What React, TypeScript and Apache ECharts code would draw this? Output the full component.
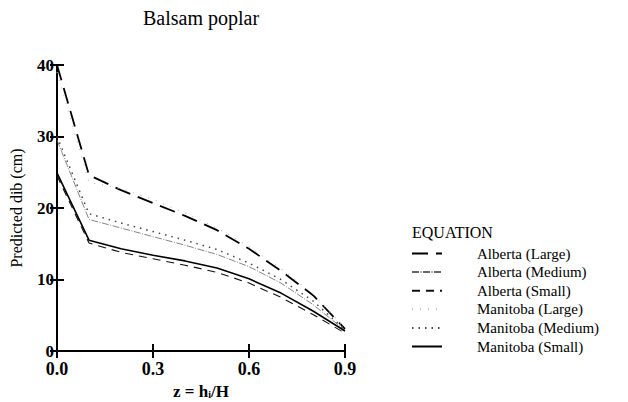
import React, { useEffect, useRef } from "react";
import * as echarts from "echarts";

// Relative height z = h_i / H
const zValues = [0, 0.1, 0.2, 0.3, 0.4, 0.5, 0.6, 0.7, 0.8, 0.9];

// Predicted diameter inside bark (cm) for each taper equation
const albertaLarge = [40, 24.6, 22.5, 20.7, 18.9, 16.9, 14.3, 11.2, 7.8, 3.1];
const albertaMedium = [29.5, 18.4, 17.2, 16.0, 14.8, 13.5, 11.8, 9.5, 6.5, 2.9];
const albertaSmall = [24.5, 15.1, 13.8, 12.9, 12.0, 11.0, 9.5, 7.5, 5.1, 2.5];
const manitobaLarge = [39, 23.6, 22.7, 21.2, 19.3, 17.2, 14.6, 11.5, 8.0, 3.2];
const manitobaMedium = [30, 19.2, 17.9, 16.7, 15.5, 14.2, 12.3, 10.0, 7.0, 3.0];
const manitobaSmall = [24.9, 15.5, 14.3, 13.4, 12.6, 11.6, 10.1, 8.1, 5.6, 2.8];

const xTicks = [0, 0.3, 0.6, 0.9];
const yTicks = [0, 10, 20, 30, 40];

const SERIF = "'Liberation Serif', serif";

const pairs = (ys: number[]) => zValues.map((z, i) => [z, ys[i]]);

export default function App() {
  const ref = useRef<HTMLDivElement>(null);

  useEffect(() => {
    if (!ref.current) return;
    const chart = echarts.init(ref.current, undefined, { renderer: "svg" });

    const line = (
      name: string,
      data: number[],
      color: string,
      width: number,
      type: any
    ) => ({
      name,
      type: "line",
      data: pairs(data),
      symbol: "none",
      showSymbol: false,
      lineStyle: { color, width, type },
      itemStyle: { color },
      z: 3,
    });

    const axisCommon = {
      axisLine: { show: true, lineStyle: { color: "#000", width: 2 } },
      axisTick: {
        show: true,
        inside: true,
        length: 7,
        lineStyle: { color: "#000", width: 2 },
      },
      splitLine: { show: false },
    };

    chart.setOption({
      animation: false,
      backgroundColor: "#fff",
      title: {
        text: "Balsam poplar",
        left: 201,
        top: 8,
        padding: 0,
        textAlign: "center",
        textStyle: {
          fontFamily: SERIF,
          fontSize: 20,
          fontWeight: "normal",
          color: "#000",
        },
      },
      grid: {
        left: 57,
        top: 65,
        width: 288,
        height: 286,
        containLabel: false,
        outerBoundsMode: "none",
      },
      xAxis: [
        {
          type: "value",
          min: 0,
          max: 0.9,
          interval: 0.3,
          position: "bottom",
          ...axisCommon,
          axisLabel: {
            margin: 9,
            fontFamily: SERIF,
            fontSize: 18,
            fontWeight: "bold",
            color: "#000",
            customValues: xTicks,
            formatter: (v: number) => v.toFixed(1),
          },
          name: "z = h{sub|i}/H",
          nameLocation: "middle",
          nameGap: 29,
          nameTextStyle: {
            fontFamily: SERIF,
            fontSize: 17,
            fontWeight: "bold",
            color: "#000",
            rich: {
              sub: {
                fontFamily: SERIF,
                fontSize: 10,
                fontWeight: "bold",
                verticalAlign: "bottom",
                padding: [6, 0, 0, 0],
              },
            },
          },
        },
        {
          type: "value",
          min: 0,
          max: 0.9,
          interval: 0.3,
          position: "top",
          ...axisCommon,
          axisLabel: { show: false },
        },
      ],
      yAxis: [
        {
          type: "value",
          min: 0,
          max: 40,
          interval: 10,
          position: "left",
          ...axisCommon,
          axisLabel: {
            margin: 3,
            fontFamily: SERIF,
            fontSize: 17,
            fontWeight: "bold",
            color: "#000",
            customValues: yTicks,
          },
          name: "Predicted dib (cm)",
          nameLocation: "middle",
          nameGap: 33,
          nameRotate: 90,
          nameTextStyle: {
            fontFamily: SERIF,
            fontSize: 16,
            color: "#000",
          },
        },
        {
          type: "value",
          min: 0,
          max: 40,
          interval: 10,
          position: "right",
          ...axisCommon,
          axisLabel: { show: false },
        },
      ],
      legend: {
        orient: "vertical",
        left: 406,
        top: 241,
        itemWidth: 30,
        itemHeight: 12,
        itemGap: 3.6,
        itemStyle: { opacity: 0 },
        textStyle: {
          fontFamily: SERIF,
          fontSize: 15,
          color: "#000",
          padding: [0, 0, 0, 30],
        },
        data: [
          "Alberta (Large)",
          "Alberta (Medium)",
          "Alberta (Small)",
          "Manitoba (Large)",
          "Manitoba (Medium)",
          "Manitoba (Small)",
        ],
      },
      graphic: [
        {
          type: "text",
          left: 412,
          top: 224,
          style: {
            text: "EQUATION",
            font: `16px ${SERIF}`,
            fill: "#000",
          },
        },
      ],
      series: [
        line("Alberta (Large)", albertaLarge, "#000", 1.8, [16, 8]),
        line("Alberta (Medium)", albertaMedium, "#666", 0.8, [7, 1.5, 1, 1.5]),
        line("Alberta (Small)", albertaSmall, "#111", 1.1, [8, 6]),
        line("Manitoba (Large)", manitobaLarge, "#bbb", 1.2, [1, 7]),
        line("Manitoba (Medium)", manitobaMedium, "#444", 1.5, [1.5, 5]),
        line("Manitoba (Small)", manitobaSmall, "#000", 1.6, "solid"),
      ],
    });

    return () => chart.dispose();
  }, []);

  return (
    <div
      ref={ref}
      style={{ position: "absolute", left: 0, top: 0, width: 628, height: 402 }}
    />
  );
}
